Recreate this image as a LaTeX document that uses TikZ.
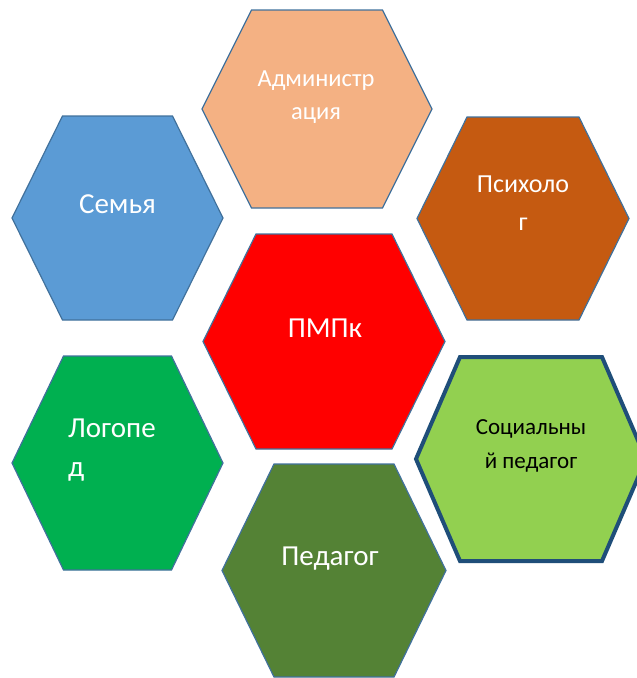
\documentclass[tikz,border=0pt]{standalone}
\usepackage{fontspec}
\setmainfont{Carlito}
\usepackage{xcolor}
\definecolor{admin}{HTML}{F4B183}
\definecolor{family}{HTML}{5B9BD5}
\definecolor{psych}{HTML}{C55A11}
\definecolor{pmpk}{HTML}{FF0000}
\definecolor{logo}{HTML}{00B050}
\definecolor{social}{HTML}{92D050}
\definecolor{teach}{HTML}{548235}
\definecolor{rim}{HTML}{41719C}
\definecolor{darkrim}{HTML}{1F4E79}

% hexagon: style, centre x, centre y, half width, half top edge, half height
\newcommand{\hexcell}[6]{%
  \draw[#1, shift={(#2,#3)}] (-#4,0) -- (-#5,-#6) -- (#5,-#6) -- (#4,0)
    -- (#5,#6) -- (-#5,#6) -- cycle;}

\begin{document}
\begin{tikzpicture}[x=1pt, y=-1pt,
    hexa/.style={draw=rim, line width=1.2pt},
    lbl/.style={font=\fontsize{29}{34}\selectfont, text=white, align=center, inner sep=0pt}]
    \useasboundingbox (0,0) rectangle (637,678);
    \clip (0,0) rectangle (637,678);

    % ячейки
    \hexcell{hexa, fill=admin}{317}{109}{115}{65.5}{99}
    \hexcell{hexa, fill=family}{117.5}{218}{105.5}{55}{102}
    \hexcell{hexa, fill=psych}{523}{218.5}{106}{56}{101.5}
    \hexcell{hexa, fill=pmpk}{324}{341.5}{121}{68}{107.5}
    \hexcell{hexa, fill=logo}{117.5}{463}{105.5}{54}{107}
    \hexcell{draw=darkrim, line width=4pt, fill=social}{531}{459}{115}{71}{102}
    \hexcell{hexa, fill=teach}{334}{570.5}{112}{60}{106.5}

    % подписи
    \node[lbl, font=\fontsize{24.5}{33}\selectfont] (admin) at (316,97) {Администр\\ация};
    \node[lbl] (family) at (117.5,204) {Семья};
    \node[lbl, font=\fontsize{26}{38}\selectfont] (psych) at (523,203) {Психоло\\г};
    \node[lbl] (pmpk) at (325,328) {ПМПк};
    \node[lbl, align=left, anchor=west] (logo) at (68,450) {Логопе\\[5pt]д};
    \node[lbl, text=black, font=\fontsize{23}{34}\selectfont] (social) at (531,446) {Социальны\\й педагог};
    \node[lbl] (teach) at (330,559) {Педагог};
\end{tikzpicture}
\end{document}
